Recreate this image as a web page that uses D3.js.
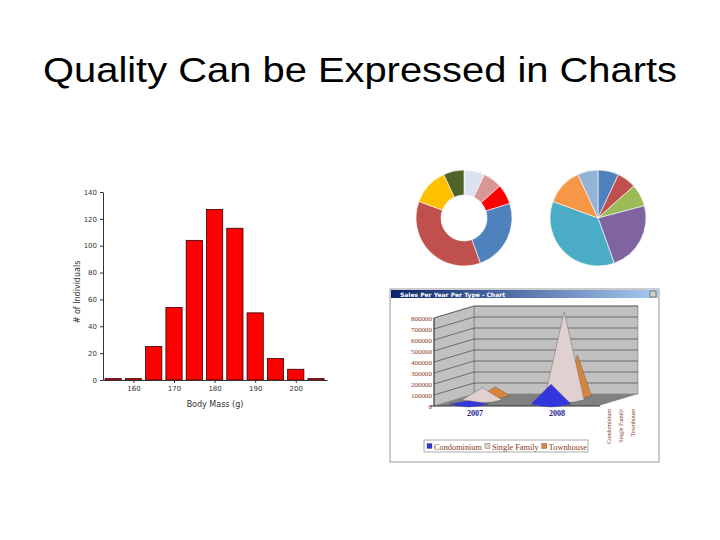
<!DOCTYPE html><html><head><meta charset="utf-8">
<script src="https://cdn.jsdelivr.net/npm/d3@7"></script>
<style>body{margin:0;background:#fff}</style></head><body>
<svg id="s" width="720" height="540"></svg>
<script>
const histBins=[155,160,165,170,175,180,185,190,195,200,205];
const histCounts=[1,1,25,54,104,127,113,50,16,8,1];
const histTicksY=[0,20,40,60,80,100,120,140];
const histTicksX=[160,170,180,190,200];
const donutVals=[7,6.4,6.7,24.4,36.1,12.5,6.9];
const donutCols=["#dce3ee","#da9694","#ff0000","#4f81bd","#c0504d","#ffc000","#4f6228"];
const pieVals=[7,6.4,7.5,23.6,36.1,12.5,6.9];
const pieCols=["#4f81bd","#c0504d","#9bbb59","#8064a2","#4bacc6","#f79646","#95b3d7"];
const years=["2007","2008"];
const series=["Condominium","Single Family","Townhouse"];
const sales2007=[30000,110000,80000];
const sales2008=[180000,800000,370000];
const salesTicks=[0,100000,200000,300000,400000,500000,600000,700000,800000];

const svg=d3.select("#s");
svg.append("text").attr("x",360).attr("y",82).attr("text-anchor","middle")
 .attr("font-family","Liberation Sans, Arial").attr("font-size",35).attr("textLength",634).attr("lengthAdjust","spacingAndGlyphs").text("Quality Can be Expressed in Charts");

// Histogram
const hx=d3.scaleLinear().domain([152.5,207.7]).range([103,327]);
const hy=d3.scaleLinear().domain([0,140]).range([380,192]);
const hg=svg.append("g");
hg.selectAll("rect").data(histBins).join("rect")
 .attr("x",d=>hx(d-2)).attr("width",hx(4)-hx(0)).attr("y",(d,i)=>hy(histCounts[i]))
 .attr("height",(d,i)=>hy(0)-hy(histCounts[i])).attr("fill","#f00").attr("stroke","#300").attr("stroke-width",0.8);
const ya=hg.append("g").attr("transform","translate(103,0)").call(d3.axisLeft(hy).tickValues(histTicksY).tickSize(3).tickSizeOuter(0));
const xa=hg.append("g").attr("transform","translate(0,380)").call(d3.axisBottom(hx).tickValues(histTicksX).tickSize(3).tickSizeOuter(0));
[ya,xa].forEach(a=>{a.selectAll("text").attr("font-size",7).attr("font-family","DejaVu Sans").attr("fill","#333");a.selectAll("path,line").attr("stroke","#333");});
hg.append("text").attr("x",215).attr("y",407).attr("text-anchor","middle").attr("font-size",8).attr("font-family","DejaVu Sans").attr("fill","#333").text("Body Mass (g)");
hg.append("text").attr("transform","translate(80,292) rotate(-90)").attr("text-anchor","middle").attr("font-size",8).attr("font-family","DejaVu Sans").attr("fill","#333").text("# of Individuals");

// pies
function pie(cx,cy,vals,cols,inner){
 const arcs=d3.pie().sort(null)(vals);
 svg.append("g").attr("transform",`translate(${cx},${cy})`).selectAll("path").data(arcs).join("path")
  .attr("d",d3.arc().innerRadius(inner).outerRadius(48)).attr("fill",(d,i)=>cols[i]).attr("stroke","#fff").attr("stroke-width",0.6);
}
pie(464,218,donutVals,donutCols,23);
pie(598,218,pieVals,pieCols,0);

// 3D window
const w=svg.append("g");
w.append("rect").attr("x",390).attr("y",289).attr("width",269).attr("height",173).attr("fill","#fff").attr("stroke","#999");
const grad=svg.append("defs").append("linearGradient").attr("id","tb");
grad.append("stop").attr("offset",0).attr("stop-color","#0a246a");grad.append("stop").attr("offset",1).attr("stop-color","#a6caf0");
w.append("rect").attr("x",391).attr("y",290).attr("width",267).attr("height",8).attr("fill","url(#tb)");
w.append("text").attr("x",400).attr("y",297).attr("font-size",6).attr("font-weight","bold").attr("fill","#fff").attr("font-family","DejaVu Sans").text("Sales Per Year Per Type - Chart");
w.append("rect").attr("x",650).attr("y",291).attr("width",6).attr("height",6).attr("fill","#d4d0c8").attr("stroke","#333").attr("stroke-width",0.5);
const sy=d3.scaleLinear().domain([0,800000]).range([406,318]);
const dx=40,dy=-12;
w.append("path").attr("d",`M${434+dx},${318+dy}L638,${318+dy}L638,${406+dy}L${434+dx},${406+dy}Z`).attr("fill","#c0c0c0").attr("stroke","#666").attr("stroke-width",0.5);
w.append("path").attr("d",`M434,318L${434+dx},${318+dy}L${434+dx},${406+dy}L434,406Z`).attr("fill","#c0c0c0").attr("stroke","#666").attr("stroke-width",0.5);
w.append("path").attr("d",`M434,406L${434+dx},${406+dy}L638,${406+dy}L598,406Z`).attr("fill","#808080");
w.selectAll(".g").data(salesTicks.slice(1)).join("path").attr("d",d=>`M434,${sy(d)}L${434+dx},${sy(d)+dy}L638,${sy(d)+dy}`).attr("stroke","#333").attr("stroke-width",0.6).attr("fill","none");
w.append("line").attr("x1",434).attr("x2",434).attr("y1",318).attr("y2",406).attr("stroke","#333");
w.append("line").attr("x1",430).attr("x2",600).attr("y1",406).attr("y2",406).attr("stroke","#333");
w.selectAll(".yl").data(salesTicks).join("text").attr("x",432).attr("y",d=>sy(d)+2.5).attr("text-anchor","end")
 .attr("font-size",7).attr("fill","#8b3a1a").attr("font-family","Liberation Serif").text(d=>d);
const xb=d3.scaleBand().domain(years).range([434,598]);
const cone=d3.scaleBand().domain(series).range([0,36]);
const ccols=["#3535e0","#e0d0d0","#d8843c"];
[sales2007,sales2008].forEach((vals,yi)=>{
 [2,1,0].forEach(si=>{
  const off=cone(series[si]);
  const cx=xb(years[yi])+xb.bandwidth()/2+off*1.1-6, base=406-off*0.35-2;
  const top=sy(vals[si])-off*0.35-2, r=si===2?14:20;
  w.append("path").attr("d",`M${cx-r},${base}L${cx},${top}L${cx+r},${base}Q${cx},${base+6} ${cx-r},${base}Z`)
   .attr("fill",ccols[si]).attr("stroke","#555").attr("stroke-width",0.4);
 });
 w.append("text").attr("x",xb(years[yi])+xb.bandwidth()/2).attr("y",416).attr("text-anchor","middle").attr("font-size",8)
  .attr("font-weight","bold").attr("fill","#1a1a8a").attr("font-family","Liberation Serif").text(years[yi]);
});
series.forEach((s,i)=>w.append("text").attr("transform",`translate(${611+i*12},${409}) rotate(-90)`).attr("text-anchor","end")
 .attr("font-size",6).attr("fill","#8b3a1a").text(s));
w.append("rect").attr("x",424).attr("y",440).attr("width",164).attr("height",12).attr("fill","#fff").attr("stroke","#555").attr("stroke-width",0.5);
let lx=427;
series.forEach((s,i)=>{w.append("rect").attr("x",lx).attr("y",443.5).attr("width",5).attr("height",5).attr("fill",ccols[i]).attr("stroke","#333").attr("stroke-width",0.3);
 const t=w.append("text").attr("x",lx+7).attr("y",449.5).attr("font-size",8.3).attr("fill","#8b3a1a").attr("font-family","Liberation Serif").text(s);
 lx+=7+t.node().getComputedTextLength()+3;});
</script></body></html>
